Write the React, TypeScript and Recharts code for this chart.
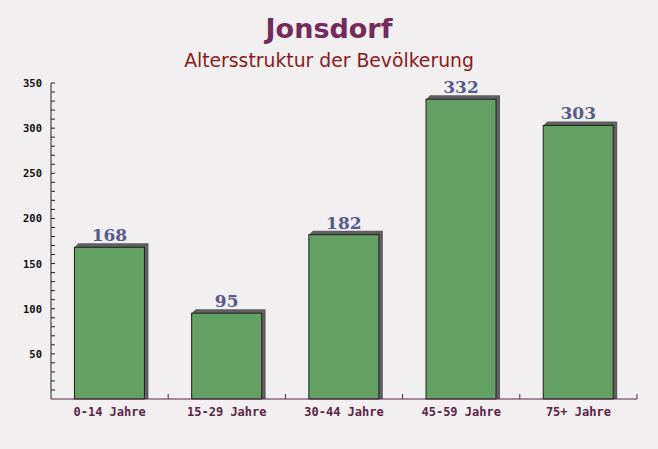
import { BarChart, Bar, XAxis, YAxis, LabelList } from "recharts";

const categories = ["0-14 Jahre", "15-29 Jahre", "30-44 Jahre", "45-59 Jahre", "75+ Jahre"];
const population = [168, 95, 182, 332, 303];
const yTicks = [0, 10, 20, 30, 40, 50, 60, 70, 80, 90, 100, 110, 120, 130, 140, 150, 160, 170, 180, 190, 200, 210, 220, 230, 240, 250, 260, 270, 280, 290, 300, 310, 320, 330, 340, 350];
const yLabelled = [50, 100, 150, 200, 250, 300, 350];

const data = categories.map((name, i) => ({ name, value: population[i] }));

const W = 658;
const H = 449;
const PLOT_LEFT = 51;
const PLOT_RIGHT = 637;
const BAND = (PLOT_RIGHT - PLOT_LEFT) / categories.length;

// bar with a grey extruded shadow up and to the right
const ShadowBar = (props: any) => {
  const { x, y, width, height } = props;
  const d = 4;
  return (
    <g>
      <polygon
        points={`${x},${y} ${x + d},${y - d} ${x + width + d},${y - d} ${x + width + d},${y + height} ${x + width},${y + height} ${x + width},${y}`}
        fill="#5f5f5f"
      />
      <rect x={x} y={y} width={width} height={height} fill="#63a063" stroke="#1e1e1e" strokeWidth={1} />
    </g>
  );
};

const YTick = (props: any) => {
  const { x, y, payload } = props;
  const v = payload.value;
  return (
    <g>
      {v > 0 && <line x1={x} x2={x + 4} y1={y} y2={y} stroke="#222" strokeWidth={1} />}
      {yLabelled.includes(v) && (
        <text x={x - 9} y={y + 4} textAnchor="end" fontFamily="DejaVu Sans Mono" fontWeight="bold" fontSize={10.5} fill="#111">
          {v}
        </text>
      )}
    </g>
  );
};

const XTick = (props: any) => {
  const { x, y, payload } = props;
  return (
    <g>
      <line x1={x + BAND / 2} x2={x + BAND / 2} y1={399} y2={394} stroke="#5a2446" strokeWidth={1} />
      <text x={x} y={y + 9} textAnchor="middle" fontFamily="DejaVu Sans Mono" fontWeight="bold" fontSize={12} fill="#5a2446">
        {payload.value}
      </text>
    </g>
  );
};

export default function App() {
  return (
    <div style={{ position: "fixed", left: 0, top: 0, width: W, height: H, background: "#f2eff0", overflow: "hidden" }}>
      <div style={{ position: "absolute", top: 13, width: W, textAlign: "center", fontFamily: "DejaVu Sans", fontWeight: "bold", fontSize: 27, color: "#732b5b" }}>
        Jonsdorf
      </div>
      <div style={{ position: "absolute", top: 50, width: W, textAlign: "center", fontFamily: "DejaVu Sans", fontSize: 18.8, color: "#8a1a22" }}>
        Altersstruktur der Bevölkerung
      </div>
      <div style={{ position: "absolute", left: 0, top: 0 }}>
        <BarChart width={W} height={H} data={data} margin={{ top: 83, right: W - PLOT_RIGHT, bottom: 0, left: 0 }} barCategoryGap="20%">
          <XAxis
            dataKey="name"
            height={50}
            axisLine={{ stroke: "#5a2446", strokeWidth: 1 }}
            tickLine={false}
            tick={<XTick />}
            interval={0}
          />
          <YAxis
            width={PLOT_LEFT}
            domain={[0, 350]}
            ticks={yTicks}
            interval={0}
            tickSize={0}
            tickMargin={0}
            tickLine={false}
            axisLine={{ stroke: "#222", strokeWidth: 1 }}
            tick={<YTick />}
          />
          <Bar dataKey="value" shape={<ShadowBar />} isAnimationActive={false}>
            <LabelList
              dataKey="value"
              position="top"
              offset={6}
              style={{ fontFamily: "DejaVu Serif", fontWeight: "bold", fontSize: 17, fill: "#575c8a" }}
            />
          </Bar>
        </BarChart>
      </div>
    </div>
  );
}
